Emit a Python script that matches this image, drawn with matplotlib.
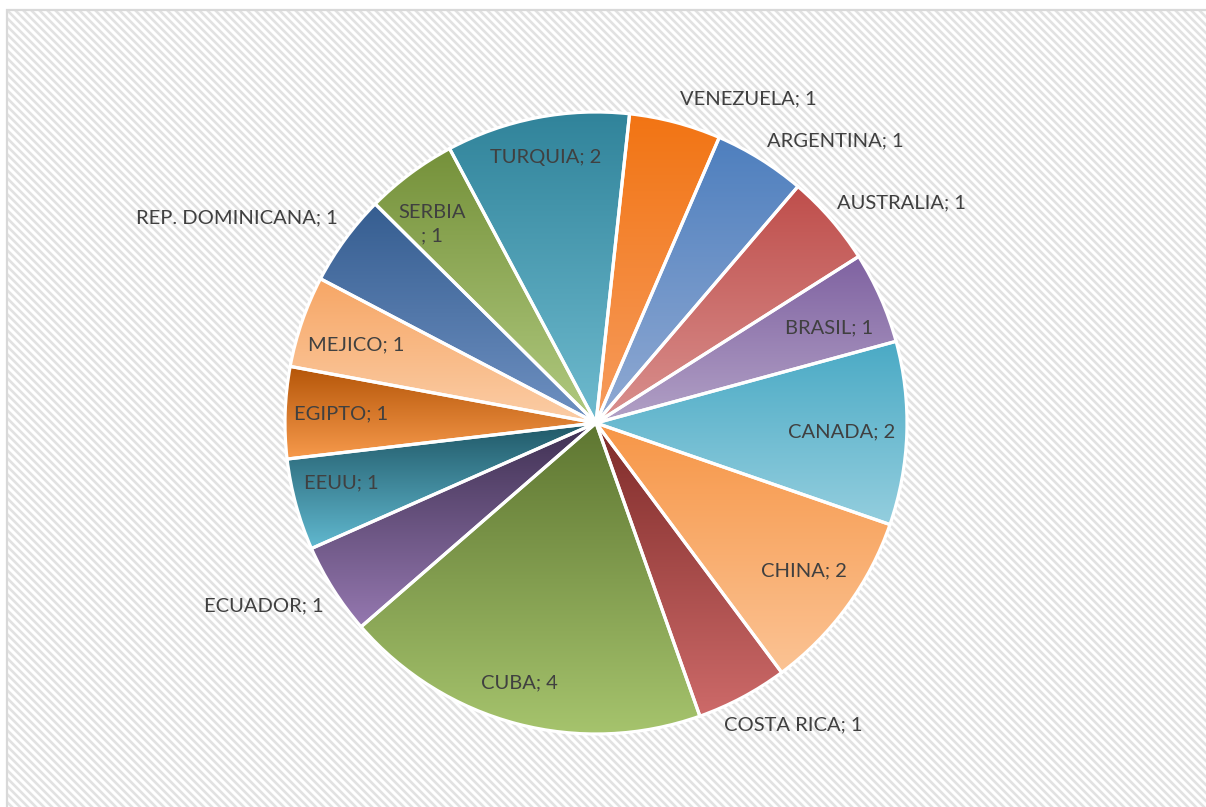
import numpy as np
import matplotlib.pyplot as plt
from matplotlib.colors import to_rgb
from matplotlib.patches import Rectangle

# datos
paises = ["VENEZUELA", "ARGENTINA", "AUSTRALIA", "BRASIL", "CANADA", "CHINA",
          "COSTA RICA", "CUBA", "ECUADOR", "EEUU", "EGIPTO", "MEJICO",
          "REP. DOMINICANA", "SERBIA", "TURQUIA"]
valores = [1, 1, 1, 1, 2, 2, 1, 4, 1, 1, 1, 1, 1, 1, 2]

# degradado de cada sector (arriba -> abajo)
col_arriba = ["#F27413", "#4E7FBE", "#BF4E4B", "#7F62A1", "#4AAAC5", "#F79647",
              "#7E2B29", "#5E7631", "#3F3052", "#205867", "#B45508", "#F7A665",
              "#355D90", "#75913A", "#30839A"]
col_abajo = ["#F69C5E", "#91AAD3", "#D9918F", "#B2A1C6", "#94CEDE", "#FBC394",
             "#CD6A69", "#A7C56E", "#9578B0", "#61B9D0", "#F79A4C", "#FBCDA6",
             "#6F91C2", "#B1CA80", "#6FBBCF"]

# etiquetas: radio relativo y giro horario (grados) respecto al centro del sector
etiq_radio = [1.15, 1.19, 1.21, 0.81, 0.79, 0.82, 1.16, 0.87, 1.22, 0.84, 0.82,
              0.81, 1.33, 0.83, 0.87]
etiq_giro = [10.4, 8.3, 5.2, 1.5, 0.2, -0.7, -5.1, 1.7, 3.6, 2.0, 0.2, -1.0,
             -6.5, -2.9, 0.2]

W, H = 1206, 807
cx, cy, R = 596, H - 423, 311

fig = plt.figure(figsize=(W / 100, H / 100), dpi=100)

# fondo rayado
xx, yy = np.meshgrid(np.arange(W - 7), np.arange(H - 10))
fase = ((xx - yy) % 8) / 8.0
tri = np.abs(fase - 0.5) * 2  # 0..1
gris = 1.0 - 0.11 * np.clip((tri - 0.35) / 0.4, 0, 1)
fondo = np.dstack([gris, gris, gris])
fig.figimage(fondo, xo=7, yo=0, origin="upper", zorder=-2)

fig.patches.append(Rectangle((7 / W, -0.01), 1.02, (H - 10) / H + 0.01,
                             transform=fig.transFigure, fill=False,
                             edgecolor="#D9D9D9", linewidth=1.6, zorder=-1))

ax = fig.add_axes([0, 0, 1, 1])
ax.patch.set_visible(False)

wedges, _ = ax.pie(valores, center=(cx, cy), radius=R, startangle=90 - 6.2,
                   counterclock=False,
                   wedgeprops=dict(edgecolor="white", linewidth=2.3))

for w, c1, c2 in zip(wedges, col_arriba, col_abajo):
    v = w.get_path().vertices
    y0, y1 = v[:, 1].min(), v[:, 1].max()
    x0, x1 = v[:, 0].min(), v[:, 0].max()
    t = np.linspace(0, 1, 256)[:, None]
    img = (1 - t) * np.array(to_rgb(c1)) + t * np.array(to_rgb(c2))
    im = ax.imshow(img[:, None, :], extent=[x0, x1, y0, y1], origin="upper",
                   aspect="auto", interpolation="bilinear", zorder=1.5)
    im.set_clip_path(w)
    w.set_facecolor("none")
    w.set_zorder(2)

for w, nombre, val, rf, giro in zip(wedges, paises, valores, etiq_radio, etiq_giro):
    ang = np.deg2rad((w.theta1 + w.theta2) / 2 - giro)
    txt = "{0}; {1}".format(nombre, val)
    if nombre == "SERBIA":
        txt = "{0}\n; {1}".format(nombre, val)
    ax.text(cx + rf * R * np.cos(ang), cy + rf * R * np.sin(ang), txt,
            ha="center", va="center", fontsize=14.5, color="#404040",
            family="Lato", linespacing=1.45, zorder=3)

ax.set_xlim(0, W)
ax.set_ylim(0, H)
ax.set_aspect("equal")
ax.axis("off")

fig.savefig("out.png", dpi=100)
